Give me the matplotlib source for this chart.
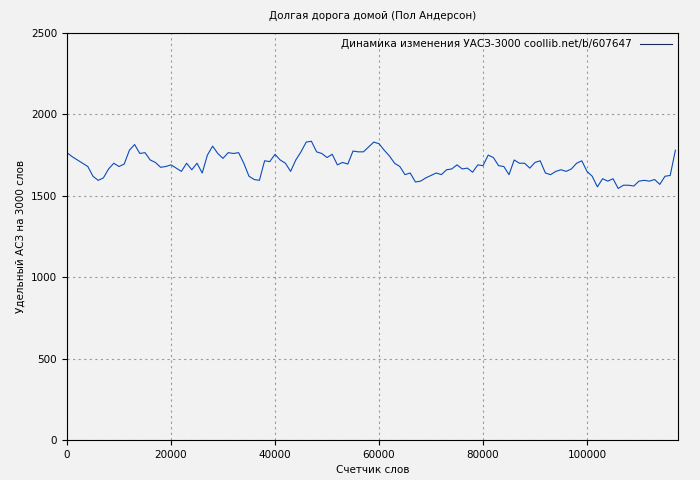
import matplotlib
matplotlib.use("Agg")
import matplotlib.pyplot as plt
import numpy as np

words = np.arange(0, 118000, 1000)
values = [1765,1740,1720,1700,1680,1620,1595,1610,1665,1700,1680,1695,1780,1815,1760,1765,1720,1705,1675,1680,
          1690,1670,1650,1700,1660,1700,1640,1750,1805,1760,1730,1765,1760,1765,1700,1620,1600,1595,1715,1710,
          1755,1720,1700,1650,1720,1770,1830,1835,1770,1760,1735,1755,1690,1705,1695,1775,1770,1770,1800,1830,
          1820,1780,1745,1700,1680,1630,1640,1585,1590,1610,1625,1640,1630,1660,1665,1690,1665,1670,1645,1690,
          1685,1750,1735,1685,1680,1630,1720,1700,1700,1670,1705,1715,1640,1630,1650,1660,1650,1665,1700,1715,
          1650,1620,1555,1605,1590,1605,1545,1565,1565,1560,1590,1595,1590,1600,1570,1620,1625,1780]

fig = plt.figure(figsize=(7, 4.8), dpi=100, facecolor="#f2f2f2")
ax = fig.add_axes([67/700, 40/480, 611/700, 407/480])
ax.set_facecolor("#f2f2f2")
ax.plot(words, values, color="#0a4bbd", lw=0.8, label="Динамика изменения УАСЗ-3000 coollib.net/b/607647")
ax.set_xlim(0, 117500)
ax.set_ylim(0, 2500)
ax.set_xticks([0, 20000, 40000, 60000, 80000, 100000])
ax.set_yticks([0, 500, 1000, 1500, 2000, 2500])
ax.grid(True, color="#999999", linestyle=(0, (2, 3)), lw=0.8)
ax.tick_params(labelsize=7.5)
ax.set_title("Долгая дорога домой (Пол Андерсон)", fontsize=7.5, pad=10)
ax.set_xlabel("Счетчик слов", fontsize=7.5)
ax.set_ylabel("Удельный АСЗ на 3000 слов", fontsize=7.5)
leg = ax.legend(loc="upper right", fontsize=7.5, frameon=False, markerfirst=False, handlelength=3,
                borderaxespad=0.2)
leg.get_lines()[0].set_color("#1a2a5a")
fig.savefig("out.png", dpi=100, facecolor=fig.get_facecolor())
